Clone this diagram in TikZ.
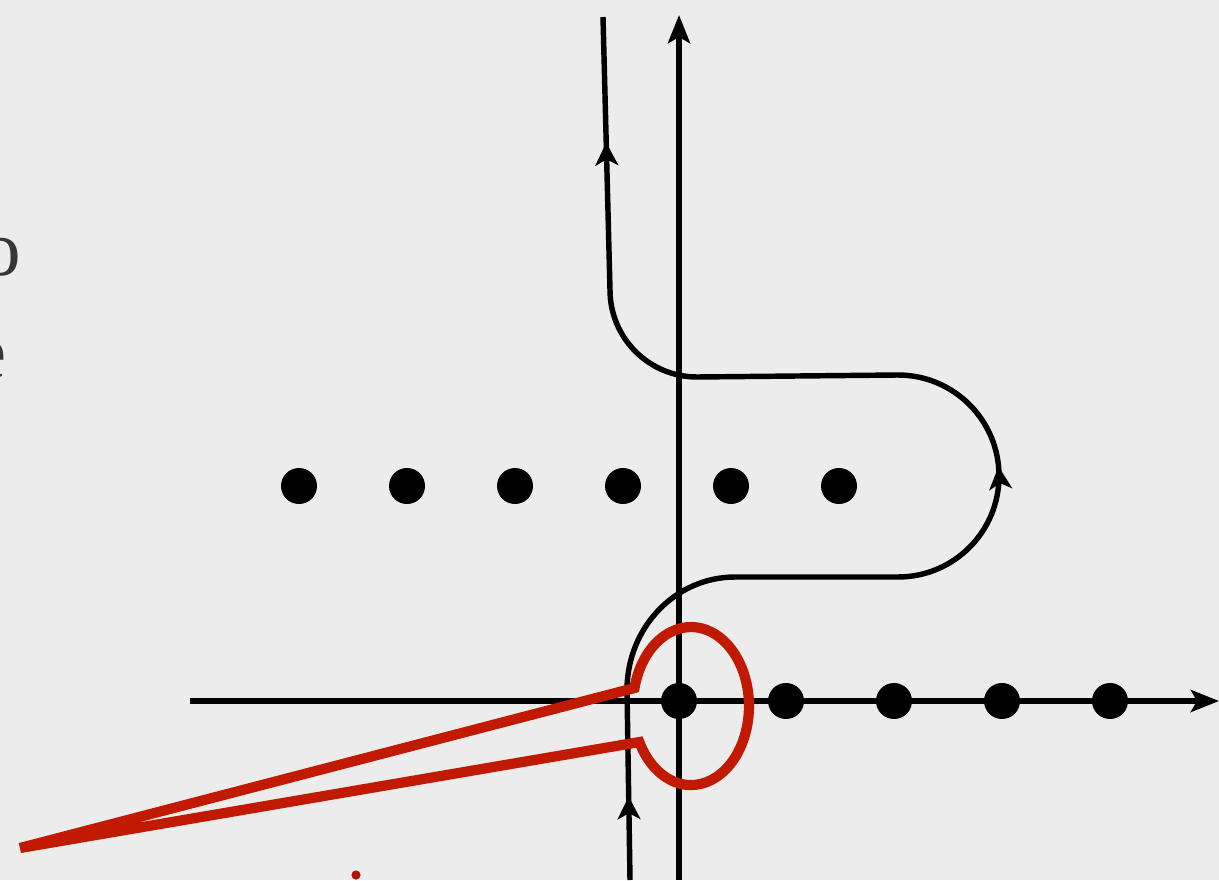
\documentclass[tikz,border=0pt]{standalone}
\usepackage{fontspec}
\setmainfont{Liberation Serif}
\usetikzlibrary{arrows.meta,decorations.markings}
\definecolor{paper}{RGB}{236,236,236}
\definecolor{cred}{RGB}{194,26,0}
\definecolor{dred}{RGB}{170,20,0}
\definecolor{ink}{RGB}{55,55,55}
\tikzset{
  axis/.style={line width=3.2pt,-{Stealth[length=16pt,width=12.5pt,inset=3.5pt]}},
  contour/.style={line width=3.1pt,line join=round},
  midarrow/.style={postaction={decorate},decoration={markings,
     mark=at position #1 with {\arrow{Stealth[length=13pt,width=13pt,inset=3.5pt]}}}},
  pole/.style={circle,fill=black,minimum size=20.5pt,inner sep=0pt},
  redloop/.style={cred,line width=5.8pt,line cap=butt,line join=miter},
  letter/.style={ink,font=\fontsize{45}{54}\selectfont,inner sep=0pt,anchor=base east}
}
\begin{document}
\begin{tikzpicture}[x=0.02cm,y=0.02cm]
\fill[paper] (0,0) rectangle (1219,880);
\useasboundingbox (0,0) rectangle (1219,880);
% cut-off text at left
\node[letter] (lo) at (21,604) {o};
\node[letter] (le) at (7,502) {e};
% axes
\coordinate (xs) at (190,179);
\coordinate (xe) at (1219,179);
\coordinate (ys) at (679,0);
\coordinate (ye) at (679,865);
\draw[axis] (xs) -- (xe);
\draw[axis] (ys) -- (ye);
% poles on real axis
\foreach \x [count=\i] in {679,786,894,1002,1110} \node[pole] (r\i) at (\x,179) {};
% upper row of poles
\foreach \x [count=\i] in {299,407,515,623,731,839} \node[pole] (u\i) at (\x,394) {};
% black contour
\coordinate (c0) at (630,0);
\coordinate (c1) at (627,190);
\coordinate (c3) at (898,303);
\coordinate (c5) at (697,503);
\coordinate (c7) at (603,863);
\draw[contour,midarrow=0.44] (c0) -- (c1);
\draw[contour] (c1) arc[start angle=180,end angle=90,x radius=108,y radius=113] -- (c3);
\draw[contour,midarrow=0.53] (c3) arc[start angle=-90,end angle=90,radius=101] coordinate (c4);
\draw[contour] (c4) -- (c5);
\draw[contour] (c5) arc[start angle=-90,end angle=-180,radius=87] coordinate (c6);
\draw[contour,midarrow=0.54] (c6) -- (c7);
% red keyhole
\coordinate (rt) at (20,32);
\draw[redloop] (rt) -- (634.5,192)
  arc[start angle=166.8,end angle=-152.9,x radius=58,y radius=79] -- (rt);
\fill[dred] (356,5) circle (4.6);
\end{tikzpicture}
\end{document}
